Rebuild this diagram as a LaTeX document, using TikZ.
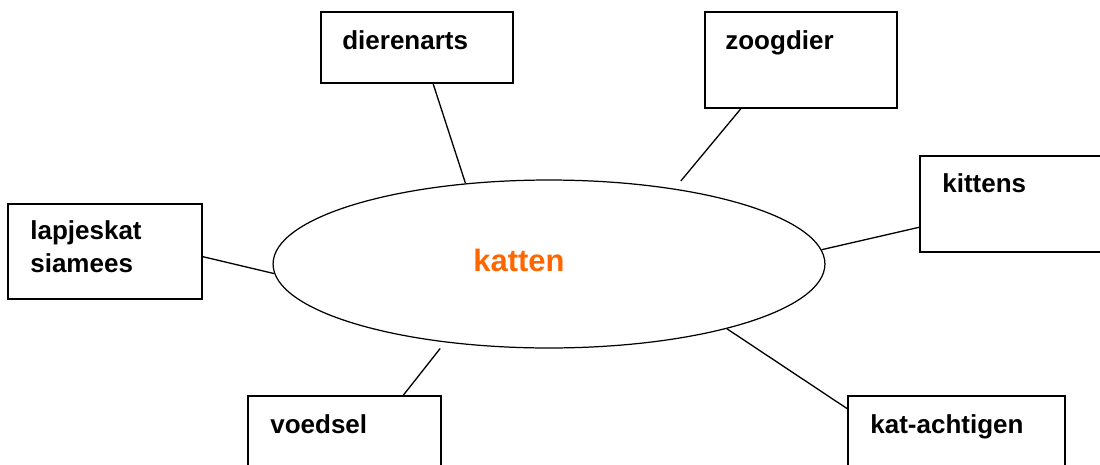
\documentclass[tikz,border=0pt]{standalone}
\usepackage{fontspec}
\setmainfont{Liberation Sans}
\usepackage{xcolor}
\usepackage{tikz}
\usetikzlibrary{shapes.geometric}
\pgfdeclarelayer{nodelayer}
\pgfdeclarelayer{edgelayer}
\pgfsetlayers{nodelayer,edgelayer,main}
\definecolor{kattenorange}{HTML}{FF6600}
\tikzset{
  box/.style={draw, rectangle, line width=0.75pt, inner sep=0pt},
  lbl/.style={inner sep=0pt, anchor=base west, align=left,
    font=\fontsize{14.8}{18.7}\selectfont\bfseries},
}

\begin{document}
\begin{tikzpicture}[x=0.02cm, y=-0.02cm]
  \useasboundingbox (0,0) rectangle (1100,464);
  \begin{pgfonlayer}{nodelayer}
    \node [ellipse, draw, line width=0.7pt, inner sep=0pt, minimum width=11.04cm, minimum height=3.36cm] (0) at (549,264) {};
    \node [box, minimum width=3.84cm, minimum height=1.42cm] (1) at (417,47.5) {};
    \node [box, minimum width=3.84cm, minimum height=1.92cm] (2) at (801,60) {};
    \node [box, minimum width=4cm, minimum height=1.92cm] (3) at (1020,204) {};
    \node [box, minimum width=3.88cm, minimum height=1.9cm] (4) at (105,251.5) {};
    \node [box, minimum width=3.86cm, minimum height=1.68cm] (5) at (344.5,438) {};
    \node [box, minimum width=4.34cm, minimum height=1.68cm] (6) at (956.5,438) {};
    \node [inner sep=0pt, anchor=base, text=kattenorange, font=\fontsize{17.6}{21}\selectfont\bfseries] (7) at (519,271) {katten};
    \node [lbl] (8) at (342,49) {dierenarts};
    \node [lbl] (9) at (725,49) {zoogdier};
    \node [lbl] (10) at (942,192) {kittens};
    \node [lbl] (11) at (30,272) {lapjeskat\\siamees};
    \node [lbl] (12) at (270,433) {voedsel};
    \node [lbl] (13) at (870,433) {kat-achtigen};
  \end{pgfonlayer}
  \begin{pgfonlayer}{edgelayer}
    \draw [line width=0.75pt] (1.-66) to (0.136);
    \draw [line width=0.75pt, shorten >=5.7pt] (2.219) to (0.31);
    \draw [line width=0.75pt] (3.193.5) to (0.3);
    \draw [line width=0.75pt] (4.-3) to (0.182);
    \draw [line width=0.75pt, shorten >=4.4pt] (5.36) to (0.217);
    \draw [line width=0.75pt] (6.165) to (0.-20);
  \end{pgfonlayer}
\end{tikzpicture}
\end{document}
